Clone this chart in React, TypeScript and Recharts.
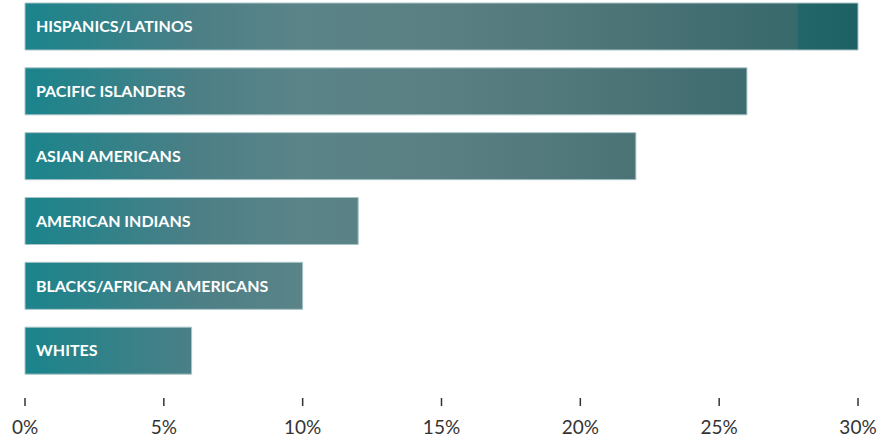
import { BarChart, Bar, XAxis, YAxis, LabelList } from "recharts";

const groups = [
  "HISPANICS/LATINOS",
  "PACIFIC ISLANDERS",
  "ASIAN AMERICANS",
  "AMERICAN INDIANS",
  "BLACKS/AFRICAN AMERICANS",
  "WHITES",
];
const shares = [30, 26, 22, 12, 10, 6];
const xTicks = [0, 5, 10, 15, 20, 25, 30];

const data = groups.map((name, i) => ({ name, value: shares[i] }));

const App = () => {
  return (
    <div style={{ position: "absolute", left: 0, top: 0, width: 894, height: 442, background: "#fff" }}>
      <BarChart
        width={894}
        height={442}
        data={data}
        layout="vertical"
        margin={{ top: -6, right: 36, bottom: 10, left: 25 }}
        barCategoryGap={9}
      >
        <defs>
          <linearGradient id="barFill" gradientUnits="userSpaceOnUse" x1={25} y1={0} x2={858} y2={0}>
            <stop offset="0" stopColor="#1a848c" />
            <stop offset="0.2" stopColor="#4b7f86" />
            <stop offset="0.33" stopColor="#5a8488" />
            <stop offset="0.51" stopColor="#5a7f82" />
            <stop offset="0.73" stopColor="#4b7376" />
            <stop offset="0.87" stopColor="#3d6b6e" />
            <stop offset="0.927" stopColor="#386a6c" />
            <stop offset="0.928" stopColor="#226669" />
            <stop offset="1" stopColor="#1d6165" />
          </linearGradient>
        </defs>
        <XAxis
          type="number"
          domain={[0, 30]}
          ticks={xTicks}
          tickFormatter={(v) => `${v}%`}
          axisLine={false}
          tickLine={{ stroke: "#333", strokeWidth: 1.5 }}
          tickSize={8}
          tickMargin={15}
          interval={0}
          tick={{ fill: "#333", fontSize: 19, fontFamily: "Lato" }}
          height={34}
        />
        <YAxis type="category" dataKey="name" hide padding={{ top: 0, bottom: 15 }} />
        <Bar
          dataKey="value"
          fill="url(#barFill)"
          stroke="#a9c4c6"
          strokeWidth={1}
          isAnimationActive={false}
        >
          <LabelList
            dataKey="name"
            position="insideLeft"
            offset={11}
            fill="#ffffff"
            style={{ fontFamily: "Lato", fontWeight: 700, fontSize: 16 }}
          />
        </Bar>
      </BarChart>
    </div>
  );
};

export default App;
